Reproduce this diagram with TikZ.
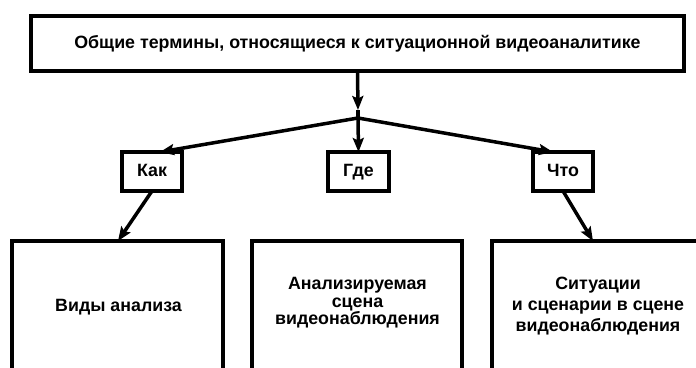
\documentclass[tikz,border=0pt]{standalone}
\usepackage{fontspec}
\setmainfont{Liberation Sans}
\usetikzlibrary{arrows.meta}
\begin{document}
\begin{tikzpicture}[x=1pt,y=-1pt,
  lbl/.style={font=\fontsize{17.8}{17.5}\selectfont\bfseries, align=center, inner sep=0pt},
  box/.style={draw, line width=4pt, inner sep=0pt, outer sep=0pt, lbl},
  tag/.style={draw, line width=3.5pt, inner sep=0pt, outer sep=0pt, minimum width=60pt, minimum height=39pt, text height=13pt, text depth=3.5pt, lbl},
  bigbox/.style={draw, line width=4.3pt, inner sep=0pt, outer sep=0pt, anchor=north west, minimum height=200pt},
  conn/.style={line width=3.5pt},
  arr/.style={conn, -{Stealth[length=14pt,width=11pt,inset=2.5pt]}}]
\useasboundingbox (0,0) rectangle (696,367);
\clip (0,0) rectangle (696,367);

\node[box, minimum width=653pt, minimum height=55pt] (top) at (357.5,43.5)
  {Общие термины, относящиеся к ситуационной видеоаналитике};

\node[tag] (kak) at (152,171.5) {Как};
\node[tag, minimum width=61pt] (gde) at (358.5,171.5) {Где};
\node[tag] (chto) at (563,171.5) {Что};

\node[bigbox, minimum width=211pt] (b1) at (12,241) {};
\node[bigbox, minimum width=210pt] (b2) at (252,241) {};
\node[bigbox, minimum width=240pt] (b3) at (492,241) {};

\node[lbl] (t1) at (118.5,307) {Виды анализа};
\node[lbl] (t2) at (357.5,303)
  {Анализируемая\\сцена\\видеонаблюдения};
\node[lbl, font=\fontsize{17.8}{21}\selectfont\bfseries] (t3) at (598,306)
  {Ситуации\\и сценарии в сцене\\видеонаблюдения};

\coordinate (J) at (358,118);
\coordinate (a0) at (358,110);
\coordinate (kin) at (160,152);
\coordinate (cin) at (553,152);
\coordinate (b1in) at (118,241);
\coordinate (b3in) at (593,241);

\draw[arr] (top.south) -- (a0);
\draw[conn] (a0) -- (J);
\draw[arr] (J) -- (kin);
\draw[arr] (J) -- (gde.north);
\draw[arr] (J) -- (cin);
\draw[arr] (kak.south) -- (b1in);
\draw[arr] (chto.south) -- (b3in);
\end{tikzpicture}
\end{document}
